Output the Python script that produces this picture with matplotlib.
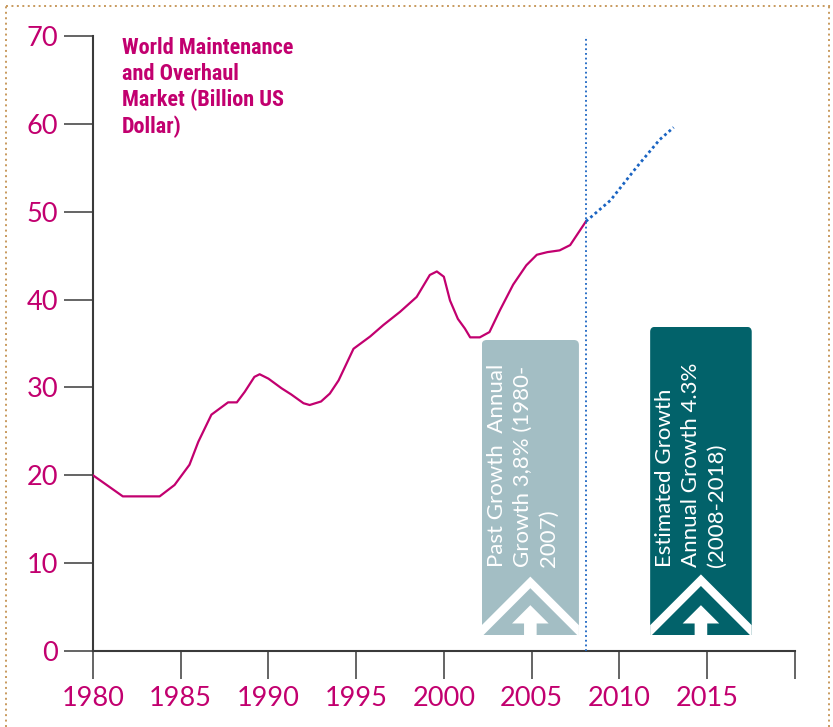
import matplotlib
matplotlib.use('Agg')
import matplotlib.pyplot as plt
from matplotlib.patches import FancyBboxPatch, Polygon
from matplotlib.lines import Line2D

# market size, billion US dollars
past_years = [1980.0, 1981.7, 1983.8, 1984.65, 1985.5, 1986.0, 1986.75, 1987.7, 1988.2,
              1988.65, 1989.2, 1989.5, 1990.0, 1990.75, 1991.3, 1992.0, 1992.35, 1993.0,
              1993.5, 1994.0, 1994.85, 1995.8, 1996.55, 1997.5, 1998.45, 1999.2, 1999.6,
              2000.0, 2000.35, 2000.8, 2001.2, 2001.5, 2002.05, 2002.6, 2003.2, 2003.95,
              2004.7, 2005.3, 2005.9, 2006.6, 2007.2, 2008.1]
past_values = [20.0, 17.6, 17.6, 18.9, 21.2, 23.8, 26.9, 28.3, 28.3,
               29.5, 31.2, 31.5, 31.0, 29.9, 29.2, 28.2, 28.0, 28.4,
               29.3, 30.8, 34.4, 35.8, 37.1, 38.6, 40.3, 42.8, 43.2,
               42.6, 39.9, 37.8, 36.7, 35.7, 35.7, 36.3, 38.8, 41.7,
               43.9, 45.1, 45.4, 45.6, 46.2, 48.9]

proj_years = [2008.1, 2009.5, 2011.0, 2012.3, 2013.1]
proj_values = [48.9, 51.3, 55.1, 58.2, 59.6]

divider_year = 2008.1

x_ticks = [1980, 1985, 1990, 1995, 2000, 2005, 2010, 2015, 2020]
x_labels = ['1980', '1985', '1990', '1995', '2000', '2005', '2010', '2015', '']
y_ticks = [0, 10, 20, 30, 40, 50, 60, 70]

title = 'World Maintenance\nand Overhaul\nMarket (Billion US\nDollar)'
past_note = 'Past Growth  Annual\nGrowth 3,8% (1980-\n2007)'
future_note = 'Estimated Growth\nAnnual Growth 4.3%\n(2008-2018)'

MAGENTA = '#c2006f'
LIGHT = '#a3bec4'
TEAL = '#02626a'
BLUE = '#1a64c2'
AXIS = '#3a3a3a'
BODY_FONT = ['Lato', 'DejaVu Sans']
TITLE_FONT = ['Roboto Condensed', 'DejaVu Sans']

W, H = 833, 727
fig = plt.figure(figsize=(W / 100, H / 100), dpi=100)
ax = fig.add_axes([93 / W, 1 - 651 / H, 701.7 / W, 615 / H])

ax.plot(past_years, past_values, color=MAGENTA, lw=1.6, solid_joinstyle='round', zorder=3)
ax.plot(proj_years, proj_values, color=BLUE, lw=2.0, linestyle=(0, (1, 1.1)), zorder=3)
ax.vlines(divider_year, 0, 70, color=BLUE, lw=1.3, linestyles=(0, (1, 1.6)), zorder=3)

ax.set_xlim(1980, 2020)
ax.set_ylim(0, 70)
ax.set_xticks(x_ticks)
ax.set_xticklabels(x_labels)
ax.set_yticks(y_ticks)
for s in ['top', 'right']:
    ax.spines[s].set_visible(False)
ax.spines['left'].set_color(AXIS)
ax.spines['left'].set_linewidth(1.5)
ax.spines['bottom'].set_color(AXIS)
ax.spines['bottom'].set_linewidth(1.5)
ax.tick_params(axis='y', direction='out', length=21, width=1.1, color=AXIS, pad=4,
               labelsize=19.5, labelcolor=MAGENTA)
ax.tick_params(axis='x', direction='out', length=20, width=1.1, color=AXIS, pad=5,
               labelsize=19.5, labelcolor=MAGENTA)
for lab in ax.get_xticklabels() + ax.get_yticklabels():
    lab.set_family(BODY_FONT)

ax.text(1981.65, 69.85, title, color=MAGENTA, fontsize=16, fontweight='bold',
        family=TITLE_FONT, ha='left', va='top', linespacing=1.22)


def growth_box(x0, x1, y0, y1, color, note):
    # box drawn in its own pixel-unit axes so corners and chevron stay square
    to_fig = fig.transFigure.inverted()
    (fx0, fy0) = to_fig.transform(ax.transData.transform((x0, y0)))
    (fx1, fy1) = to_fig.transform(ax.transData.transform((x1, y1)))
    w = (fx1 - fx0) * W
    h = (fy1 - fy0) * H
    bax = fig.add_axes([fx0, fy0, fx1 - fx0, fy1 - fy0])
    bax.set_xlim(0, w)
    bax.set_ylim(0, h)
    bax.axis('off')
    bax.add_patch(FancyBboxPatch((0, -12), w, h + 12, boxstyle='round,pad=0,rounding_size=5',
                                 fc=color, ec='none', clip_on=True))
    cx = w / 2
    bax.add_patch(Polygon([(0, 0), (0, 10), (cx, cx + 10), (w, 10), (w, 0)],
                          closed=True, fc='white', ec='none'))
    bax.add_patch(Polygon([(1.6, 0), (cx, cx - 1.6), (w - 1.6, 0)],
                          closed=True, fc=color, ec='none'))
    bax.add_patch(Polygon([(cx - 6.3, 0), (cx - 6.3, 11.7), (cx - 18.3, 11.7), (cx, 30),
                           (cx + 18.3, 11.7), (cx + 6.3, 11.7), (cx + 6.3, 0)],
                          closed=True, fc='white', ec='none'))
    bax.text(5, 68, note, rotation=90, ha='left', va='bottom', color='white',
             fontsize=16, family=BODY_FONT, linespacing=1.38)


growth_box(2002.16, 2007.7, 1.8, 35.4, LIGHT, past_note)
growth_box(2011.76, 2017.55, 1.8, 36.9, TEAL, future_note)

# dotted page frame
frame = dict(color='#c89a5e', lw=1.4, linestyle=(0, (1, 1.8)), transform=fig.transFigure)
fig.add_artist(Line2D([6 / W, 1], [1 - 6 / H, 1 - 6 / H], **frame))
fig.add_artist(Line2D([6 / W, 6 / W], [0, 1 - 6 / H], **frame))
fig.add_artist(Line2D([829 / W, 829 / W], [0, 1 - 6 / H], **frame))

fig.savefig('out.png', dpi=100)
